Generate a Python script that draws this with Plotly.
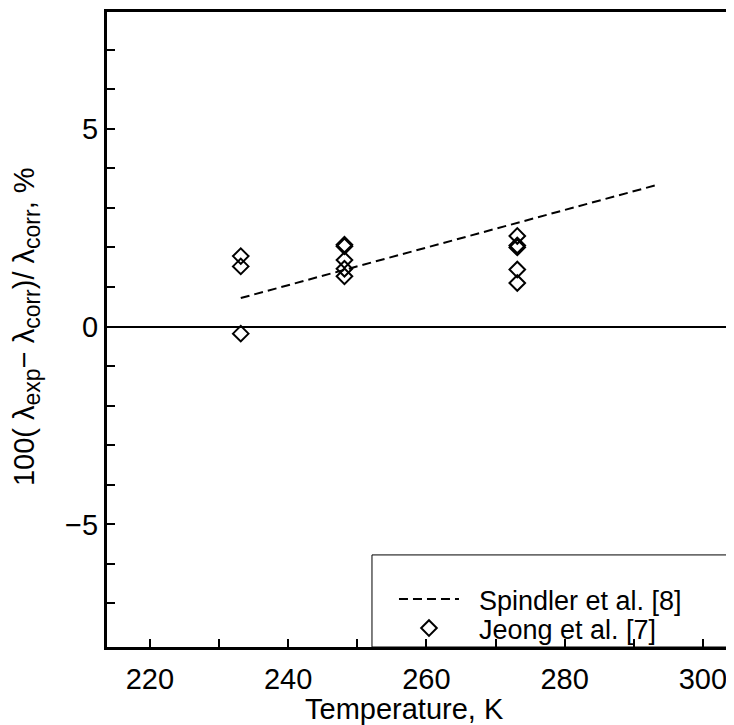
import plotly.graph_objects as go

# Data
jeong_T = [233.15, 233.15, 233.15,
           248.15, 248.15, 248.15, 248.15, 248.15,
           273.15, 273.15, 273.15, 273.15, 273.15]
jeong_dev = [1.78, 1.52, -0.18,
             2.07, 2.03, 1.68, 1.46, 1.27,
             2.29, 2.05, 2.00, 1.44, 1.10]

spindler_T = [233.15, 293.15]
spindler_dev = [0.72, 3.57]

x_tickvals = [220, 230, 240, 250, 260, 270, 280, 290, 300]
x_ticktext = ["220", "", "240", "", "260", "", "280", "", "300"]
y_tickvals = [-7, -6, -5, -4, -3, -2, -1, 0, 1, 2, 3, 4, 5, 6, 7]
y_ticktext = ["", "", "\u22125", "", "", "", "", "0", "", "", "", "", "5", "", ""]

FONT = "Liberation Sans, Arial, sans-serif"
NB = "\u00a0"

fig = go.Figure()
fig.add_trace(go.Scatter(
    x=spindler_T, y=spindler_dev, mode="lines",
    name=NB * 2 + "Spindler et al. [8]",
    line=dict(color="black", width=2, dash="9px,5px"),
    legend="legend",
))
fig.add_trace(go.Scatter(
    x=jeong_T, y=jeong_dev, mode="markers",
    name=NB * 2 + "Jeong et al. [7]",
    marker=dict(symbol="diamond-open", size=12, color="black",
                line=dict(color="black", width=2)),
    legend="legend2",
))

# legend frame
fig.add_shape(type="rect", xref="paper", yref="paper",
              x0=0.4226, x1=1.0, y0=0, y1=0.145,
              line=dict(color="black", width=1), fillcolor="white", layer="below")

ylab = ("100(" + NB + "\u03bb<sub><span style='font-size:23px'>exp</span></sub>\u2212" + NB +
        "\u03bb<sub><span style='font-size:23px'>corr</span></sub>)/" + NB +
        "\u03bb<sub><span style='font-size:23px'>corr</span></sub>," + NB + "%")

legend_common = dict(xanchor="left", yanchor="top",
                     bgcolor="rgba(0,0,0,0)", borderwidth=0,
                     font=dict(size=27), itemwidth=60, tracegroupgap=0)

# page has an 8px body margin: figure is sized to fill the rest of the window
fig.update_layout(
    width=726, height=717,
    margin=dict(l=99, r=0, t=4, b=78),
    plot_bgcolor="white", paper_bgcolor="white",
    font=dict(family=FONT, size=28, color="black"),
    showlegend=True,
    legend=dict(x=0.4577, y=0.1134, **legend_common),
    legend2=dict(x=0.4577, y=0.0677, **legend_common),
    xaxis=dict(range=[213.8, 304.5], tickvals=x_tickvals, ticktext=x_ticktext,
               ticks="inside", ticklen=8, tickwidth=2, tickcolor="black",
               showline=True, linewidth=3, linecolor="black", mirror=True,
               showgrid=False, zeroline=False, ticklabelstandoff=4,
               tickfont=dict(size=29)),
    yaxis=dict(range=[-8.1, 7.95], tickvals=y_tickvals, ticktext=y_ticktext,
               ticks="inside", ticklen=8, tickwidth=2, tickcolor="black",
               showline=True, linewidth=3, linecolor="black", mirror=False,
               showgrid=False, zeroline=True, zerolinecolor="black", zerolinewidth=1.5,
               tickfont=dict(size=29)),
    annotations=[
        dict(text=ylab,
             xref="paper", yref="paper", x=-0.128, y=0.505,
             xanchor="center", yanchor="middle", textangle=-90,
             showarrow=False, font=dict(size=29)),
        dict(text="Temperature, K", xref="paper", yref="paper",
             x=0.4737, y=-0.0976, xanchor="center", yanchor="middle",
             showarrow=False, font=dict(size=29)),
    ],
)

fig.write_html("out.html")
